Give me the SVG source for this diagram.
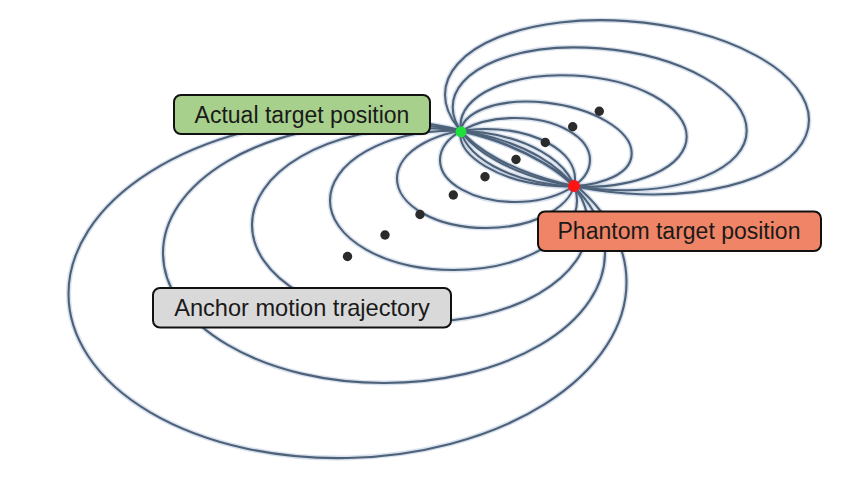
<svg xmlns="http://www.w3.org/2000/svg" xmlns:xlink="http://www.w3.org/1999/xlink" width="853" height="481" viewBox="0 0 853 481">
  <style>
    .orb { fill: none; }
    .glow { stroke: #a9bcd6; stroke-width: 5; stroke-opacity: 0.45; }
    .line { stroke: #4d6178; stroke-width: 2.1; }
    .box { stroke: #111; stroke-width: 2; }
    .lbl { font-family: "Liberation Sans", Arial, sans-serif; font-size: 23px; fill: #1a1a1a; text-anchor: middle; }
    .dot { fill: #2b2b2b; }
  </style>
  <defs>
    <g id="orbits" class="orb">
      <ellipse cx="0" cy="0" rx="279" ry="170" transform="translate(347.5,288) skewY(-1.2)"/>
      <ellipse cx="384" cy="253" rx="221" ry="130"/>
      <ellipse cx="420" cy="225" rx="168" ry="97"/>
      <ellipse cx="453.5" cy="200.4" rx="123.5" ry="69.6"/>
      <ellipse cx="486" cy="178.5" rx="89" ry="49.5"/>
      <ellipse cx="515" cy="160" rx="75" ry="42"/>
      <ellipse cx="0" cy="0" rx="85.7" ry="41.3" transform="translate(546,143.9) skewY(6.28)"/>
      <ellipse cx="0" cy="0" rx="113.1" ry="55.5" transform="translate(573.6,131) skewY(2.86)"/>
      <ellipse cx="0" cy="0" rx="147" ry="70.4" transform="translate(599.7,118.8) skewY(4.57)"/>
      <ellipse cx="0" cy="0" rx="182" ry="86.2" transform="translate(627,107.3) skewY(4.0)"/>
    </g>
  </defs>
  <rect width="853" height="481" fill="#ffffff"/>
  <g id="connectors">
    <use xlink:href="#orbits" class="glow"/>
    <use xlink:href="#orbits" class="line"/>
  </g>
  <g id="anchor-dots">
    <circle class="dot" cx="347.5" cy="256.5" r="4.7"/>
    <circle class="dot" cx="385" cy="235" r="4.7"/>
    <circle class="dot" cx="420" cy="214.5" r="4.7"/>
    <circle class="dot" cx="453.3" cy="195" r="4.7"/>
    <circle class="dot" cx="485" cy="176.7" r="4.7"/>
    <circle class="dot" cx="516" cy="159.5" r="4.7"/>
    <circle class="dot" cx="545.3" cy="142.5" r="4.7"/>
    <circle class="dot" cx="572.7" cy="126.7" r="4.7"/>
    <circle class="dot" cx="599.3" cy="111.3" r="4.7"/>
  </g>
  <g id="actual-point">
    <circle cx="461" cy="131.8" r="5.5" fill="#1fe03a"/>
  </g>
  <g id="phantom-point">
    <circle cx="574" cy="186" r="6" fill="#ff1414"/>
  </g>
  <g id="actual-label">
    <rect class="box" x="174" y="95" width="256" height="39" rx="7" fill="#a7d08c"/>
    <text class="lbl" x="302" y="122.5">Actual target position</text>
  </g>
  <g id="phantom-label">
    <rect class="box" x="538" y="211.5" width="283" height="39.5" rx="7" fill="#f08466"/>
    <text class="lbl" x="679" y="239">Phantom target position</text>
  </g>
  <g id="anchor-label">
    <rect class="box" x="153" y="288" width="298" height="39.5" rx="7" fill="#d9d9d9"/>
    <text class="lbl" x="302" y="316" style="font-size:23.6px">Anchor motion trajectory</text>
  </g>
</svg>
